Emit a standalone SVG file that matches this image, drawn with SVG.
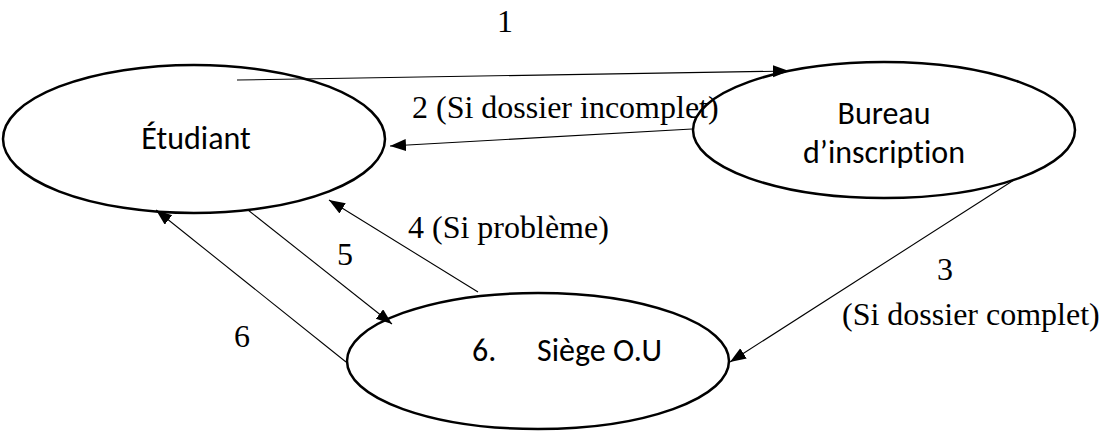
<svg xmlns="http://www.w3.org/2000/svg" width="1107" height="433" viewBox="0 0 1107 433">
<style>
.node{fill:#fff;stroke:#000;stroke-width:2.5}
.edge{stroke:#000;stroke-width:1.1;fill:none;marker-end:url(#ah)}
.serif{font-family:"Liberation Serif","Times New Roman",serif;font-size:32px;fill:#000}
.sans{font-family:Carlito,Calibri,"Liberation Sans",sans-serif;font-size:32px;fill:#000;font-variant-ligatures:none}
</style>
<defs>
<marker id="ah" markerUnits="userSpaceOnUse" markerWidth="18" markerHeight="14" refX="16" refY="6" orient="auto">
<path d="M0,0 L16,6 L0,12 Z" fill="#000"/>
</marker>
</defs>
<rect width="1107" height="433" fill="#fff"/>
<g id="etudiant">
<ellipse class="node" cx="194" cy="139" rx="191" ry="74"/>
<text class="sans" x="196" y="149" text-anchor="middle">Étudiant</text>
</g>
<g id="bureau">
<ellipse class="node" cx="884" cy="130" rx="191" ry="68"/>
<text class="sans" x="884" y="124" text-anchor="middle">Bureau</text>
<text class="sans" x="884" y="163" text-anchor="middle">d’inscription</text>
</g>
<g id="siege">
<ellipse class="node" cx="538" cy="361" rx="191" ry="68"/>
<text class="sans" x="472" y="361">6.</text>
<text class="sans" x="537" y="361">Siège O.U</text>
</g>
<g id="connectors">
<line class="edge" x1="237" y1="80" x2="789" y2="71"/>
<line class="edge" x1="692" y1="129" x2="390" y2="146"/>
<line class="edge" x1="1014" y1="180" x2="730" y2="362"/>
<line class="edge" x1="478" y1="292" x2="329" y2="200"/>
<line class="edge" x1="248" y1="210" x2="392" y2="324"/>
<line class="edge" x1="346" y1="362" x2="156" y2="210"/>
</g>
<g id="labels">
<text class="serif" x="505" y="32" text-anchor="middle">1</text>
<text class="serif" x="412" y="118">2 (Si dossier incomplet)</text>
<text class="serif" x="945" y="280" text-anchor="middle">3</text>
<text class="serif" x="842" y="325">(Si dossier complet)</text>
<text class="serif" x="408" y="238">4 (Si problème)</text>
<text class="serif" x="345" y="265" text-anchor="middle">5</text>
<text class="serif" x="242" y="347" text-anchor="middle">6</text>
</g>
</svg>
